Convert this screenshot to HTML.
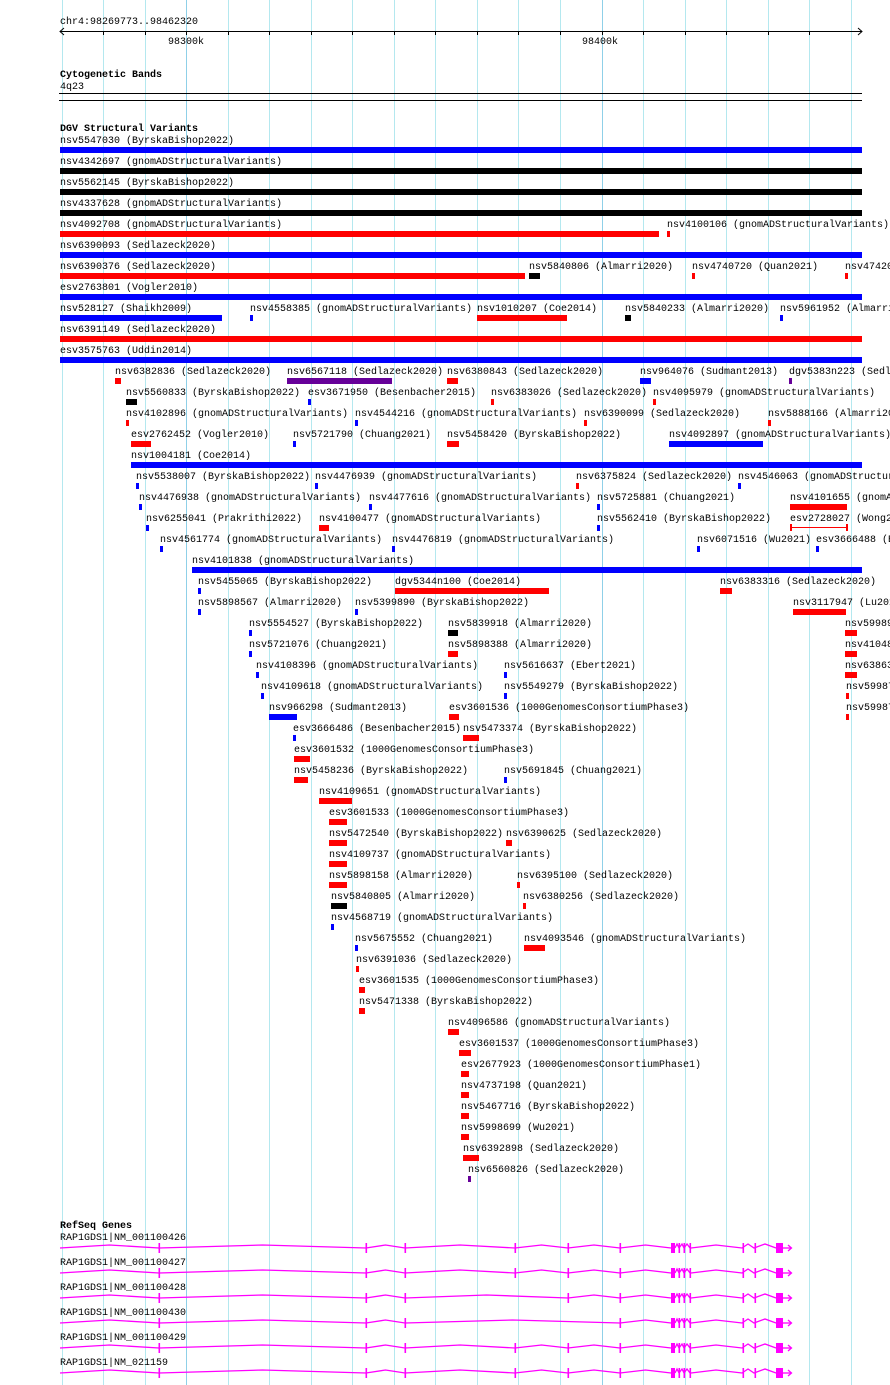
<!DOCTYPE html>
<html><head><meta charset="utf-8"><style>
html,body{margin:0;padding:0;background:#fff;overflow:hidden;}
body{width:890px;height:1385px;position:relative;overflow:hidden;font-family:"Liberation Mono",monospace;font-size:10px;color:#000;}
#c{position:absolute;left:0;top:0;width:890px;height:1385px;overflow:hidden;}
.t{position:absolute;white-space:nowrap;line-height:12px;}
.b{position:absolute;height:6px;}
.h{font-weight:bold;}
</style></head><body>
<svg id="g" width="890" height="1385" style="position:absolute;left:0;top:0"></svg>
<div id="c"></div>
<script>
var svg=document.getElementById('g'),c=document.getElementById('c'),s='';
for(var k=0;k<20;k++){var x=Math.round(61.5+41.54*k)+0.5;s+='<line x1="'+x+'" y1="0" x2="'+x+'" y2="1385" stroke="'+((k==3||k==13)?'#8fd0e8':'#b4e8ef')+'" stroke-width="1"/>';}
s+='<line x1="60" y1="31.5" x2="862" y2="31.5" stroke="#000"/>';
s+='<polyline points="64,28 60,31.5 64,35" fill="none" stroke="#000"/><polyline points="858,28 862,31.5 858,35" fill="none" stroke="#000"/>';
for(var k=1;k<19;k++){var x=Math.round(61.5+41.54*k)+0.5;s+='<line x1="'+x+'" y1="31" x2="'+x+'" y2="35" stroke="#000"/>';}
s+='<line x1="59" y1="93.5" x2="862" y2="93.5" stroke="#000"/><line x1="59" y1="100.5" x2="862" y2="100.5" stroke="#000"/>';
var ex=[159,366,405,515,568,620,743,755];
var gy=[1248,1273,1298,1323,1348,1373];
var miss=[[],[],[515],[515,568],[],[]];
for(var i=0;i<6;i++){var y=gy[i];var e=ex.filter(function(v){return miss[i].indexOf(v)<0;});
var p='';var xs=[60].concat(e.filter(function(v){return v<671;})).concat([671]);
for(var j=0;j<xs.length-1;j++){var a=xs[j],b=xs[j+1],m=(a+b)/2;p+=a+','+y+' '+m+','+(y-3)+' '+b+','+y+' ';}
s+='<polyline points="'+p+'" fill="none" stroke="#f0f" stroke-width="1.3"/>';
var p2='691,'+y+' 716,'+(y-3)+' 742,'+y+' 748,'+(y-4)+' 754,'+y+' 765,'+(y-4)+' 776,'+y;
s+='<polyline points="'+p2+'" fill="none" stroke="#f0f" stroke-width="1.3"/>';
s+='<polyline points="675,'+y+' 677,'+(y-4)+' 679,'+y+' 682,'+(y-4)+' 684,'+y+' 687,'+(y-4)+' 690,'+y+'" fill="none" stroke="#f0f" stroke-width="1.3"/>';
e.concat([679,684,690]).forEach(function(x){s+='<rect x="'+(x-0.5)+'" y="'+(y-5)+'" width="1.6" height="10" fill="#f0f"/>';});
s+='<rect x="671" y="'+(y-5)+'" width="4" height="10" fill="#f0f"/><rect x="776" y="'+(y-5)+'" width="7" height="10" fill="#f0f"/>';
s+='<line x1="783" y1="'+y+'" x2="791" y2="'+y+'" stroke="#f0f" stroke-width="1.3"/><polyline points="788,'+(y-3)+' 791.5,'+y+' 788,'+(y+3)+'" fill="none" stroke="#f0f" stroke-width="1.3"/>';
}
svg.innerHTML=s;
var h='';
function T(x,y,t,cls){h+='<div class="t '+(cls||'')+'" style="left:'+x+'px;top:'+(y-4)+'px">'+t+'</div>';}
function B(x1,x2,y,col){h+='<div class="b" style="left:'+x1+'px;width:'+(x2-x1)+'px;top:'+(y+7)+'px;background:'+col+'"></div>';}
T(60,21,'chr4:98269773..98462320');T(168,41,'98300k');T(582,41,'98400k');
T(60,74,'Cytogenetic Bands','h');T(60,86,'4q23');T(60,128,'DGV Structural Variants','h');
var R='#f00',U='#00f',K='#000',P='#609';
var rows=[
[[60,862,U,'nsv5547030 (ByrskaBishop2022)']],
[[60,862,K,'nsv4342697 (gnomADStructuralVariants)']],
[[60,862,K,'nsv5562145 (ByrskaBishop2022)']],
[[60,862,K,'nsv4337628 (gnomADStructuralVariants)']],
[[60,659,R,'nsv4092708 (gnomADStructuralVariants)'],[667,670,R,'nsv4100106 (gnomADStructuralVariants)']],
[[60,862,U,'nsv6390093 (Sedlazeck2020)']],
[[60,525,R,'nsv6390376 (Sedlazeck2020)'],[529,540,K,'nsv5840806 (Almarri2020)'],[692,695,R,'nsv4740720 (Quan2021)'],[845,848,R,'nsv47420']],
[[60,862,U,'esv2763801 (Vogler2010)']],
[[60,222,U,'nsv528127 (Shaikh2009)'],[250,253,U,'nsv4558385 (gnomADStructuralVariants)'],[477,567,R,'nsv1010207 (Coe2014)'],[625,631,K,'nsv5840233 (Almarri2020)'],[780,783,U,'nsv5961952 (Almarri2020)']],
[[60,862,R,'nsv6391149 (Sedlazeck2020)']],
[[60,862,U,'esv3575763 (Uddin2014)']],
[[115,121,R,'nsv6382836 (Sedlazeck2020)'],[287,392,P,'nsv6567118 (Sedlazeck2020)'],[447,458,R,'nsv6380843 (Sedlazeck2020)'],[640,651,U,'nsv964076 (Sudmant2013)'],[789,792,P,'dgv5383n223 (Sedlazeck2020)']],
[[126,137,K,'nsv5560833 (ByrskaBishop2022)'],[308,311,U,'esv3671950 (Besenbacher2015)'],[491,494,R,'nsv6383026 (Sedlazeck2020)'],[653,656,R,'nsv4095979 (gnomADStructuralVariants)']],
[[126,129,R,'nsv4102896 (gnomADStructuralVariants)'],[355,358,U,'nsv4544216 (gnomADStructuralVariants)'],[584,587,R,'nsv6390099 (Sedlazeck2020)'],[768,771,R,'nsv5888166 (Almarri2020)']],
[[131,151,R,'esv2762452 (Vogler2010)'],[293,296,U,'nsv5721790 (Chuang2021)'],[447,459,R,'nsv5458420 (ByrskaBishop2022)'],[669,763,U,'nsv4092897 (gnomADStructuralVariants)']],
[[131,862,U,'nsv1004181 (Coe2014)']],
[[136,139,U,'nsv5538007 (ByrskaBishop2022)'],[315,318,U,'nsv4476939 (gnomADStructuralVariants)'],[576,579,R,'nsv6375824 (Sedlazeck2020)'],[738,741,U,'nsv4546063 (gnomADStructuralVariants)']],
[[139,142,U,'nsv4476938 (gnomADStructuralVariants)'],[369,372,U,'nsv4477616 (gnomADStructuralVariants)'],[597,600,U,'nsv5725881 (Chuang2021)'],[790,847,R,'nsv4101655 (gnomADStructuralVariants)']],
[[146,149,U,'nsv6255041 (Prakrithi2022)'],[319,329,R,'nsv4100477 (gnomADStructuralVariants)'],[597,600,U,'nsv5562410 (ByrskaBishop2022)'],[0,0,'','esv2728027 (Wong2013)',790]],
[[160,163,U,'nsv4561774 (gnomADStructuralVariants)'],[392,395,U,'nsv4476819 (gnomADStructuralVariants)'],[697,700,U,'nsv6071516 (Wu2021)'],[816,819,U,'esv3666488 (Besenbacher2015)']],
[[192,862,U,'nsv4101838 (gnomADStructuralVariants)']],
[[198,201,U,'nsv5455065 (ByrskaBishop2022)'],[395,549,R,'dgv5344n100 (Coe2014)'],[720,732,R,'nsv6383316 (Sedlazeck2020)']],
[[198,201,U,'nsv5898567 (Almarri2020)'],[355,358,U,'nsv5399890 (ByrskaBishop2022)'],[793,846,R,'nsv3117947 (Lu2018)']],
[[249,252,U,'nsv5554527 (ByrskaBishop2022)'],[448,458,K,'nsv5839918 (Almarri2020)'],[845,857,R,'nsv5998900']],
[[249,252,U,'nsv5721076 (Chuang2021)'],[448,458,R,'nsv5898388 (Almarri2020)'],[845,857,R,'nsv4104800']],
[[256,259,U,'nsv4108396 (gnomADStructuralVariants)'],[504,507,U,'nsv5616637 (Ebert2021)'],[845,857,R,'nsv6386300']],
[[261,264,U,'nsv4109618 (gnomADStructuralVariants)'],[504,507,U,'nsv5549279 (ByrskaBishop2022)'],[846,849,R,'nsv5998700']],
[[269,297,U,'nsv966298 (Sudmant2013)'],[449,459,R,'esv3601536 (1000GenomesConsortiumPhase3)'],[846,849,R,'nsv5998710']],
[[293,296,U,'esv3666486 (Besenbacher2015)'],[463,479,R,'nsv5473374 (ByrskaBishop2022)']],
[[294,310,R,'esv3601532 (1000GenomesConsortiumPhase3)']],
[[294,308,R,'nsv5458236 (ByrskaBishop2022)'],[504,507,U,'nsv5691845 (Chuang2021)']],
[[319,352,R,'nsv4109651 (gnomADStructuralVariants)']],
[[329,347,R,'esv3601533 (1000GenomesConsortiumPhase3)']],
[[329,347,R,'nsv5472540 (ByrskaBishop2022)'],[506,512,R,'nsv6390625 (Sedlazeck2020)']],
[[329,347,R,'nsv4109737 (gnomADStructuralVariants)']],
[[329,347,R,'nsv5898158 (Almarri2020)'],[517,520,R,'nsv6395100 (Sedlazeck2020)']],
[[331,347,K,'nsv5840805 (Almarri2020)'],[523,526,R,'nsv6380256 (Sedlazeck2020)']],
[[331,334,U,'nsv4568719 (gnomADStructuralVariants)']],
[[355,358,U,'nsv5675552 (Chuang2021)'],[524,545,R,'nsv4093546 (gnomADStructuralVariants)']],
[[356,359,R,'nsv6391036 (Sedlazeck2020)']],
[[359,365,R,'esv3601535 (1000GenomesConsortiumPhase3)']],
[[359,365,R,'nsv5471338 (ByrskaBishop2022)']],
[[448,459,R,'nsv4096586 (gnomADStructuralVariants)']],
[[459,471,R,'esv3601537 (1000GenomesConsortiumPhase3)']],
[[461,469,R,'esv2677923 (1000GenomesConsortiumPhase1)']],
[[461,469,R,'nsv4737198 (Quan2021)']],
[[461,469,R,'nsv5467716 (ByrskaBishop2022)']],
[[461,469,R,'nsv5998699 (Wu2021)']],
[[463,479,R,'nsv6392898 (Sedlazeck2020)']],
[[468,471,P,'nsv6560826 (Sedlazeck2020)']]
];
rows.forEach(function(r,i){var y=140+21*i;r.forEach(function(e){
 if(e[2]){T(e[0],y,e[3]);B(e[0],e[1],y,e[2]);}
 else{T(e[4],y,e[3]);h+='<div class="b" style="left:790px;width:57px;top:'+(y+9)+'px;height:1px;background:#f00"></div><div class="b" style="left:790px;width:2px;top:'+(y+6)+'px;height:7px;background:#f00"></div><div class="b" style="left:846px;width:2px;top:'+(y+6)+'px;height:7px;background:#f00"></div>';}
});});
T(60,1225,'RefSeq Genes','h');
['RAP1GDS1|NM_001100426','RAP1GDS1|NM_001100427','RAP1GDS1|NM_001100428','RAP1GDS1|NM_001100430','RAP1GDS1|NM_001100429','RAP1GDS1|NM_021159'].forEach(function(t,i){T(60,1237+25*i,t);});
c.innerHTML=h;
</script>
</body></html>
